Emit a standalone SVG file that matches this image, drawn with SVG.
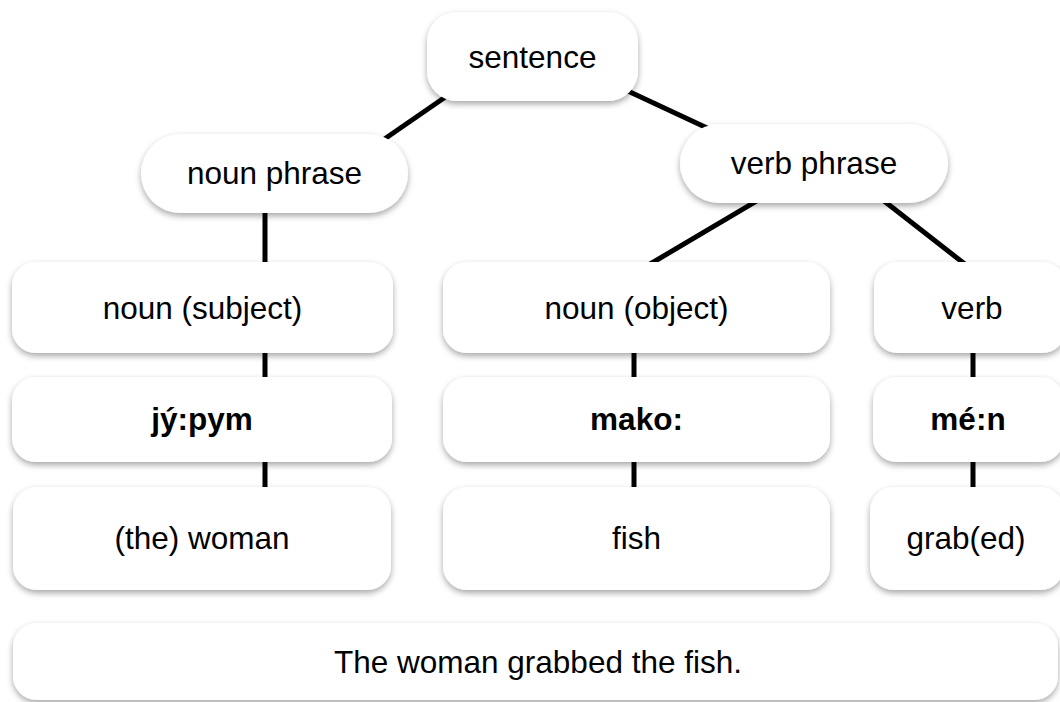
<svg xmlns="http://www.w3.org/2000/svg" width="1060" height="702" viewBox="0 0 1060 702">
  <defs>
    <filter id="sh" x="-10%" y="-20%" width="120%" height="150%">
      <feDropShadow dx="0" dy="3" stdDeviation="3" flood-color="#000" flood-opacity="0.35"/>
    </filter>
  </defs>
  <style>
    .box { fill: #ffffff; filter: url(#sh); }
    .t { font-family: "Liberation Sans", Arial, Helvetica, sans-serif; font-size: 31.5px; fill: #000; text-anchor: middle; }
    .b { font-weight: bold; }
    .c { stroke: #000; stroke-width: 5; fill: none; }
  </style>
  <rect width="1060" height="702" fill="#ffffff"/>
  <g id="connectors">
    <line class="c" x1="470" y1="80" x2="370" y2="149"/>
    <line class="c" x1="600" y1="78" x2="720" y2="134"/>
    <line class="c" x1="265" y1="200" x2="265" y2="275"/>
    <line class="c" x1="770" y1="193" x2="640" y2="270"/>
    <line class="c" x1="870" y1="190" x2="975" y2="272"/>
    <line class="c" x1="265" y1="340" x2="265" y2="390"/>
    <line class="c" x1="265" y1="450" x2="265" y2="500"/>
    <line class="c" x1="634" y1="340" x2="634" y2="390"/>
    <line class="c" x1="634" y1="450" x2="634" y2="500"/>
    <line class="c" x1="973" y1="340" x2="973" y2="390"/>
    <line class="c" x1="973" y1="450" x2="973" y2="500"/>
  </g>
  <g id="sentence">
    <rect class="box" x="427" y="12" width="211" height="89" rx="30"/>
    <text class="t" x="532.5" y="68">sentence</text>
  </g>
  <g id="noun-phrase">
    <rect class="box" x="141" y="134" width="267" height="79" rx="39.5"/>
    <text class="t" x="274.5" y="184">noun phrase</text>
  </g>
  <g id="verb-phrase">
    <rect class="box" x="680" y="124" width="268" height="79" rx="39.5"/>
    <text class="t" x="814" y="174">verb phrase</text>
  </g>
  <g id="noun-subject">
    <rect class="box" x="12" y="262" width="381" height="91" rx="24"/>
    <text class="t" x="202.5" y="319">noun (subject)</text>
  </g>
  <g id="noun-object">
    <rect class="box" x="443" y="262" width="387" height="91" rx="24"/>
    <text class="t" x="636.5" y="319">noun (object)</text>
  </g>
  <g id="verb">
    <rect class="box" x="874" y="262" width="192" height="91" rx="24"/>
    <text class="t" x="972" y="319">verb</text>
  </g>
  <g id="jypym">
    <rect class="box" x="12" y="377" width="380" height="85" rx="24"/>
    <text class="t b" x="202" y="430">jý:pym</text>
  </g>
  <g id="mako">
    <rect class="box" x="443" y="377" width="387" height="85" rx="24"/>
    <text class="t b" x="636.5" y="430">mako:</text>
  </g>
  <g id="men">
    <rect class="box" x="873" y="377" width="191" height="85" rx="24"/>
    <text class="t b" x="968" y="430">mé:n</text>
  </g>
  <g id="woman">
    <rect class="box" x="13" y="487" width="378" height="103" rx="24"/>
    <text class="t" x="202" y="549">(the) woman</text>
  </g>
  <g id="fish">
    <rect class="box" x="443" y="487" width="387" height="103" rx="24"/>
    <text class="t" x="636.5" y="549">fish</text>
  </g>
  <g id="grabbed">
    <rect class="box" x="870" y="487" width="194" height="103" rx="24"/>
    <text class="t" x="966" y="549">grab(ed)</text>
  </g>
  <g id="translation">
    <rect class="box" x="13" y="623" width="1045" height="77" rx="24"/>
    <text class="t" x="538" y="673">The woman grabbed the fish.</text>
  </g>
</svg>
